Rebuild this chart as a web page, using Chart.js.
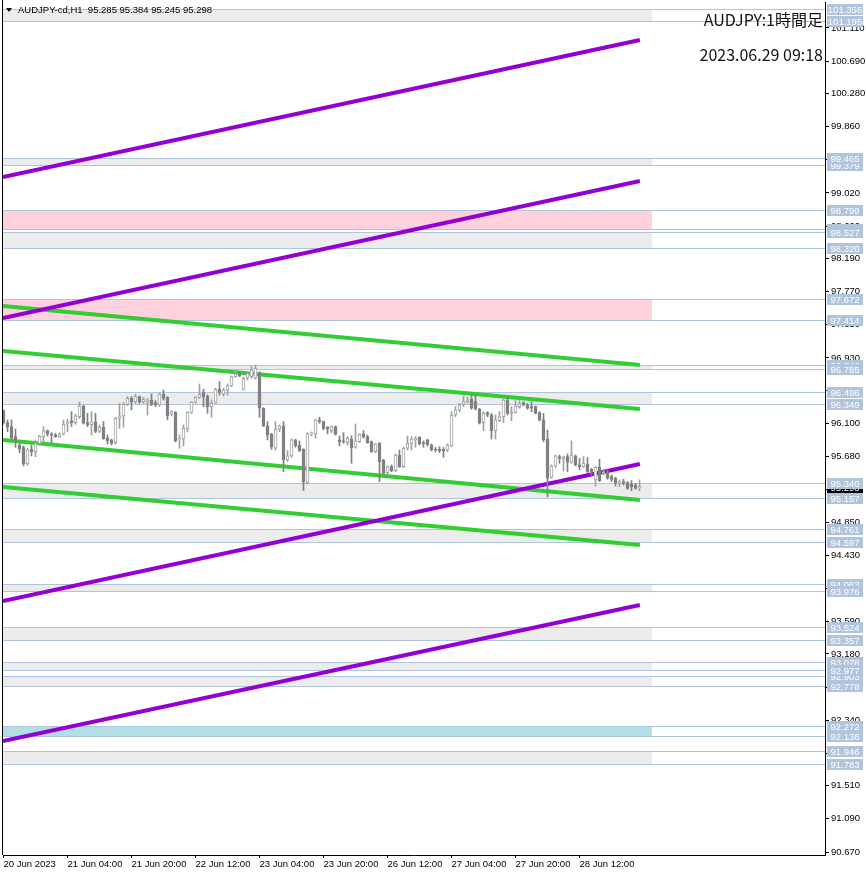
<!DOCTYPE html>
<html>
<head>
<meta charset="utf-8">
<script src="https://cdn.jsdelivr.net/npm/chart.js@4.4.0/dist/chart.umd.min.js"></script>
<style>
html, body { margin: 0; padding: 0; background: #fff; }
canvas { display: block; }
</style>
</head>
<body>
<canvas id="chart" width="866" height="876"></canvas>
<script>
// AUDJPY H1 candles
var opens = [96.262,96.110,96.060,95.933,95.827,95.793,95.586,95.772,95.743,95.848,
95.933,96.009,95.967,95.954,95.933,95.967,96.089,96.135,96.110,96.186,
96.321,96.110,96.085,96.119,96.000,96.051,95.916,95.891,95.857,96.165,
96.195,96.342,96.418,96.376,96.439,96.376,96.376,96.397,96.363,96.334,
96.469,96.431,96.216,96.245,95.891,95.903,96.038,96.241,96.368,96.431,
96.490,96.448,96.313,96.363,96.532,96.473,96.524,96.575,96.693,96.744,
96.532,96.672,96.693,96.672,96.735,96.292,96.068,95.967,95.785,96.026,
96.068,95.637,95.688,95.891,95.827,95.772,95.350,95.967,95.967,96.144,
96.123,96.051,96.009,96.060,95.891,95.878,95.857,95.903,95.798,95.869,
95.967,95.933,95.869,95.743,95.848,95.637,95.477,95.561,95.502,95.700,
95.553,95.785,95.848,95.891,95.924,95.857,95.891,95.827,95.772,95.772,
95.772,95.764,95.815,96.207,96.271,96.342,96.376,96.406,96.376,96.279,
96.110,96.237,96.207,96.009,96.135,96.186,96.397,96.228,96.241,96.313,
96.363,96.334,96.313,96.313,96.237,96.144,95.903,95.417,95.561,95.679,
95.654,95.679,95.608,95.688,95.574,95.553,95.586,95.519,95.384,95.544,
95.468,95.489,95.426,95.405,95.342,95.363,95.350,95.329,95.320,95.285];
var highs = [96.271,96.144,96.144,96.030,95.848,95.815,95.785,95.827,95.891,95.950,
96.060,96.017,95.983,95.975,95.983,96.144,96.152,96.249,96.216,96.372,
96.330,96.228,96.249,96.228,96.081,96.123,95.954,95.899,96.178,96.355,
96.363,96.439,96.439,96.473,96.448,96.431,96.418,96.473,96.389,96.482,
96.524,96.439,96.262,96.249,95.954,96.081,96.249,96.376,96.439,96.600,
96.532,96.461,96.397,96.545,96.630,96.545,96.600,96.701,96.777,96.756,
96.684,96.756,96.820,96.841,96.756,96.300,96.123,95.975,96.123,96.081,
96.123,95.755,95.903,95.899,95.878,95.780,95.983,95.992,96.152,96.178,
96.131,96.060,96.068,96.068,95.941,95.983,95.933,95.941,96.093,95.967,
96.009,95.954,95.878,95.848,95.857,95.646,95.561,95.574,95.713,95.764,
95.798,95.941,95.933,95.933,95.933,95.878,95.899,95.840,95.798,95.806,
95.798,95.840,96.249,96.313,96.355,96.448,96.431,96.482,96.461,96.292,
96.249,96.249,96.228,96.207,96.249,96.406,96.439,96.313,96.389,96.389,
96.376,96.355,96.376,96.321,96.249,96.228,96.017,95.574,95.700,95.700,
95.688,95.713,95.878,95.700,95.658,95.679,95.667,95.532,95.553,95.646,
95.511,95.511,95.447,95.417,95.384,95.392,95.363,95.375,95.342,95.384];
var lows = [96.089,95.996,95.899,95.798,95.730,95.561,95.570,95.688,95.679,95.823,
95.869,95.941,95.848,95.924,95.924,95.954,95.996,96.060,96.089,96.161,
96.093,96.060,95.954,95.983,95.983,95.899,95.836,95.827,95.840,96.038,
96.051,96.325,96.271,96.355,96.355,96.355,96.207,96.325,96.313,96.313,
96.397,96.144,96.195,95.865,95.785,95.815,95.992,96.228,96.355,96.418,
96.313,96.228,96.178,96.355,96.461,96.448,96.461,96.566,96.684,96.693,
96.524,96.651,96.672,96.659,96.178,96.060,95.891,95.772,95.764,95.996,
95.489,95.616,95.671,95.798,95.743,95.249,95.333,95.941,95.912,96.102,
96.017,95.967,95.983,95.954,95.815,95.848,95.827,95.595,95.785,95.857,
95.912,95.848,95.734,95.730,95.363,95.460,95.460,95.489,95.489,95.544,
95.540,95.764,95.764,95.798,95.827,95.798,95.815,95.751,95.738,95.730,
95.671,95.743,95.806,96.186,96.249,96.313,96.355,96.279,96.271,96.093,
96.009,96.186,95.903,95.903,96.123,96.110,96.207,96.135,96.228,96.292,
96.321,96.279,96.249,96.220,96.131,95.869,95.170,95.405,95.544,95.595,
95.498,95.489,95.595,95.561,95.511,95.544,95.477,95.447,95.308,95.363,
95.447,95.392,95.363,95.308,95.299,95.320,95.265,95.249,95.265,95.245];
var closes = [96.102,96.060,95.912,95.878,95.776,95.586,95.764,95.743,95.848,95.941,
96.005,95.967,95.950,95.933,95.967,96.089,96.119,96.110,96.195,96.321,
96.102,96.085,96.119,96.000,96.051,95.907,95.882,95.848,96.165,96.195,
96.342,96.418,96.368,96.439,96.368,96.406,96.397,96.342,96.334,96.473,
96.418,96.195,96.249,95.878,95.903,96.038,96.241,96.368,96.431,96.469,
96.439,96.313,96.355,96.532,96.494,96.524,96.575,96.693,96.727,96.701,
96.672,96.735,96.777,96.798,96.292,96.068,95.954,95.798,96.026,96.068,
95.637,95.688,95.891,95.815,95.755,95.363,95.967,95.975,96.144,96.123,
96.038,96.026,96.060,95.962,95.869,95.865,95.912,95.793,95.878,95.962,
95.933,95.857,95.743,95.840,95.616,95.468,95.553,95.502,95.700,95.553,
95.785,95.848,95.903,95.912,95.840,95.840,95.827,95.764,95.760,95.755,
95.751,95.827,96.207,96.271,96.334,96.376,96.397,96.292,96.283,96.110,
96.228,96.207,96.009,96.144,96.186,96.397,96.228,96.249,96.321,96.347,
96.334,96.292,96.292,96.228,96.144,95.891,95.405,95.561,95.688,95.658,
95.679,95.608,95.700,95.574,95.553,95.595,95.489,95.489,95.544,95.375,
95.489,95.405,95.392,95.342,95.363,95.342,95.278,95.299,95.278,95.298];

var symbol = 'AUDJPY-cd,H1';
var titleText = 'AUDJPY:1時間足';
var stampText = '2023.06.29 09:18';

var timeLabels = ['20 Jun 2023', '21 Jun 04:00', '21 Jun 20:00', '22 Jun 12:00', '23 Jun 04:00',
  '23 Jun 20:00', '26 Jun 12:00', '27 Jun 04:00', '27 Jun 20:00', '28 Jun 12:00'];
var timeIndex = [0, 16, 32, 48, 64, 80, 96, 112, 128, 144];

var priceTicks = [101.110, 100.690, 100.280, 99.860, 99.440, 99.020, 98.600, 98.190, 97.770,
  97.350, 96.930, 96.520, 96.100, 95.680, 95.260, 94.850, 94.430, 94.010, 93.590, 93.180,
  92.760, 92.340, 91.920, 91.510, 91.090, 90.670];

// zones: top, bottom, kind
var zoneHigh = [101.356, 99.465, 98.799, 98.527, 97.672, 96.846, 96.496, 95.340, 94.761, 94.063, 93.524, 93.078, 92.903, 92.272, 91.946];
var zoneLow  = [101.195, 99.379, 98.563, 98.320, 97.414, 96.785, 96.349, 95.157, 94.597, 93.976, 93.357, 92.977, 92.778, 92.136, 91.783];
var zoneKind = ['gray', 'gray', 'pink', 'gray', 'pink', 'gray', 'gray', 'gray', 'gray', 'gray', 'gray', 'gray', 'gray', 'blue', 'gray'];
var zoneEnd = 162;

// horizontal levels, in the order their labels are painted
var levels = [101.356, 101.195, 99.379, 99.465, 98.799, 98.563, 98.527, 98.320, 97.672, 97.414,
  96.846, 96.785, 96.496, 96.349, 95.340, 95.157, 94.761, 94.597, 94.063, 93.976,
  93.524, 93.357, 93.078, 92.903, 92.778, 92.977, 92.272, 92.136, 91.946, 91.783];

// trend lines: price at start and end of lineSpan
var lineSpan = [-0.125, 159.1];
var purpleLines = [[99.222, 100.958], [97.436, 99.172], [93.850, 95.586], [92.077, 93.800]];
var greenLines = [[97.588, 96.840], [97.018, 96.283], [95.890, 95.130], [95.295, 94.560]];

var FONT = "'Liberation Sans', Arial, sans-serif";
var zoneColor = { gray: '#ececec', pink: '#ffd1dc', blue: '#b0dfe6' };
var BULL = '#a0a0a0', BEAR = '#808080', LEVEL = '#b0c4de';

var isBull = function(i) { return closes[i] >= opens[i]; };

var wickData = opens.map(function(o, i) { return { x: i, y: [lows[i], highs[i]] }; });
var bodyData = opens.map(function(o, i) { return { x: i, y: [o, closes[i]] }; });

function trend(p, color) {
    return {
        type: 'line',
        data: [{ x: lineSpan[0], y: p[0] }, { x: lineSpan[1], y: p[1] }],
        borderColor: color,
        borderWidth: 4,
        pointRadius: 0,
        fill: false,
        clip: 0,
        order: 3
    };
}

var datasets = [];
purpleLines.forEach(function(p) { datasets.push(trend(p, '#9400d3')); });
greenLines.forEach(function(p) { datasets.push(trend(p, '#32cd32')); });
datasets.push({
    data: wickData,
    barThickness: 1,
    grouped: false,
    backgroundColor: function(c) { return isBull(c.dataIndex) ? BULL : BEAR; },
    borderWidth: 0,
    order: 2
});
datasets.push({
    data: bodyData,
    barThickness: 3,
    grouped: false,
    minBarLength: 1,
    borderSkipped: false,
    borderWidth: 1,
    backgroundColor: function(c) { return isBull(c.dataIndex) ? '#ffffff' : BEAR; },
    borderColor: function(c) { return isBull(c.dataIndex) ? BULL : BEAR; },
    order: 1
});

var overlay = {
    id: 'overlay',
    beforeDatasetsDraw: function(chart) {
        var ctx = chart.ctx, xs = chart.scales.x, ys = chart.scales.y, a = chart.chartArea;
        ctx.save();
        ctx.beginPath();
        ctx.rect(a.left, a.top, a.right - a.left, a.bottom - a.top);
        ctx.clip();
        var xr = Math.round(xs.getPixelForValue(zoneEnd));
        zoneHigh.forEach(function(t, k) {
            var y1 = Math.round(ys.getPixelForValue(t));
            var y2 = Math.round(ys.getPixelForValue(zoneLow[k]));
            ctx.fillStyle = zoneColor[zoneKind[k]];
            ctx.fillRect(a.left, y1, xr - a.left, y2 - y1);
        });
        ctx.strokeStyle = LEVEL;
        ctx.lineWidth = 1;
        levels.forEach(function(p) {
            var py = Math.round(ys.getPixelForValue(p)) + 0.5;
            ctx.beginPath();
            ctx.moveTo(a.left, py);
            ctx.lineTo(a.right, py);
            ctx.stroke();
        });
        ctx.restore();
    },
    afterDraw: function(chart) {
        var ctx = chart.ctx, ys = chart.scales.y, a = chart.chartArea;
        var last = closes.length - 1;
        ctx.save();
        // left frame
        ctx.strokeStyle = '#000';
        ctx.lineWidth = 1;
        ctx.beginPath();
        ctx.moveTo(a.left - 0.5, 0);
        ctx.lineTo(a.left - 0.5, a.bottom);
        ctx.stroke();

        // price labels on the right
        ctx.font = '9.5px ' + FONT;
        ctx.textAlign = 'center';
        ctx.textBaseline = 'middle';
        var bx = a.right + 2, bw = 36, bh = 10;
        function box(p, bg) {
            var py = Math.round(ys.getPixelForValue(p));
            ctx.fillStyle = bg;
            ctx.fillRect(bx, py - bh / 2, bw, bh + 1);
            ctx.fillStyle = '#fff';
            ctx.fillText(p.toFixed(3), bx + bw / 2, py + 1);
        }
        box(closes[last], '#000');
        levels.forEach(function(p) { box(p, LEVEL); });

        // header line
        ctx.fillStyle = '#000';
        ctx.textAlign = 'left';
        ctx.beginPath();
        ctx.moveTo(6, 8); ctx.lineTo(12, 8); ctx.lineTo(9, 12); ctx.closePath();
        ctx.fill();
        ctx.font = '9.5px ' + FONT;
        var ohlc = [opens[last], highs[last], lows[last], closes[last]].map(function(v) { return v.toFixed(3); });
        ctx.fillText(symbol + '  ' + ohlc.join(' '), 18, 10.5);

        // title texts
        ctx.textAlign = 'right';
        ctx.fillStyle = '#111';
        ctx.font = "16px 'Noto Sans CJK JP', 'Noto Sans', sans-serif";
        ctx.fillText(titleText, 823, 20);
        ctx.fillText(stampText, 823, 55);
        ctx.restore();
    }
};

var ctx = document.getElementById('chart').getContext('2d');
var chart = new Chart(ctx, {
    type: 'bar',
    data: { datasets: datasets },
    options: {
        responsive: false,
        animation: false,
        devicePixelRatio: 1,
        events: [],
        layout: { padding: { left: 3, top: 2, right: 0, bottom: 0 } },
        plugins: { legend: { display: false }, tooltip: { enabled: false } },
        scales: {
            x: {
                type: 'linear',
                min: -0.125,
                max: 205.375,
                offset: false,
                afterBuildTicks: function(s) { s.ticks = timeIndex.map(function(v) { return { value: v }; }); },
                afterFit: function(s) { s.height = 21; s.paddingLeft = 0; s.paddingRight = 0; },
                ticks: {
                    autoSkip: false,
                    maxRotation: 0,
                    align: 'start',
                    padding: 1,
                    color: '#000',
                    font: { family: FONT, size: 9.5 },
                    callback: function(v) { return timeLabels[timeIndex.indexOf(v)]; }
                },
                grid: { drawOnChartArea: false, offset: false, tickLength: 3, color: '#000' },
                border: { display: true, color: '#000', width: 1 }
            },
            y: {
                position: 'right',
                min: 90.632,
                max: 101.4394,
                afterBuildTicks: function(s) { s.ticks = priceTicks.map(function(v) { return { value: v }; }); },
                afterFit: function(s) { s.width = 41; s.paddingTop = 0; s.paddingBottom = 0; },
                ticks: {
                    autoSkip: false,
                    padding: 2,
                    color: '#000',
                    font: { family: FONT, size: 9.5 },
                    callback: function(v) { return v.toFixed(3); }
                },
                grid: { drawOnChartArea: false, tickLength: 4, color: '#000' },
                border: { display: true, color: '#000', width: 1 }
            }
        }
    },
    plugins: [overlay]
});
</script>
</body>
</html>
